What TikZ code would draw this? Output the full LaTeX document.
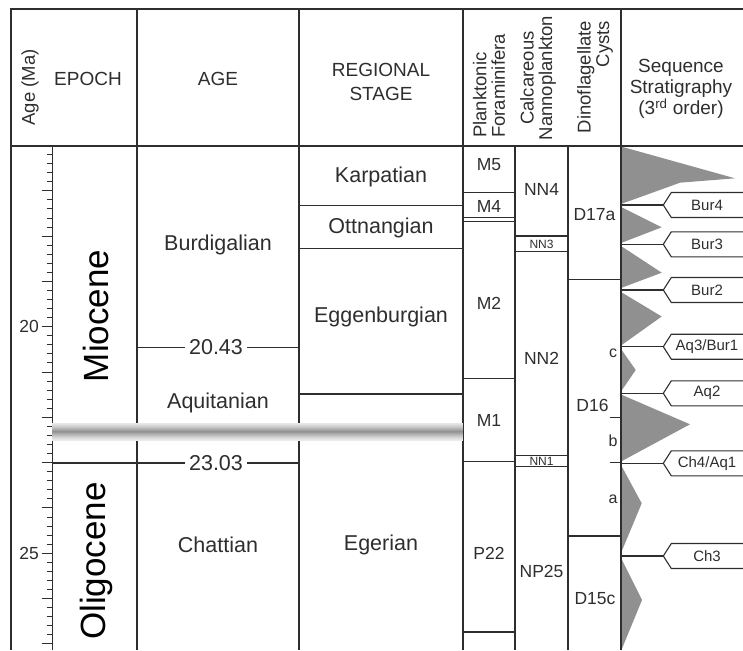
\documentclass[tikz,border=0pt]{standalone}
\usepackage{fontspec}
\setmainfont{Liberation Sans}
\definecolor{ink}{HTML}{2E2E2E}
\definecolor{wedge}{HTML}{909090}
\begin{document}
\begin{tikzpicture}[x=1pt,y=-1pt,
  rule/.style={draw=ink, line width=1.1pt},
  tick/.style={draw=ink, line width=0.9pt},
  hdr/.style={text=ink, inner sep=0pt, font=\fontsize{19}{21}\selectfont},
  hdrrot/.style={text=ink, inner sep=0pt, rotate=90, font=\fontsize{18.5}{18.5}\selectfont},
  agelbl/.style={text=ink, inner sep=0pt, font=\fontsize{21.5}{24}\selectfont},
  zone/.style={text=ink, inner sep=0pt, font=\fontsize{17.5}{20}\selectfont},
  tinyzone/.style={text=ink, inner sep=0pt, font=\fontsize{12}{14}\selectfont},
  subzone/.style={text=ink, inner sep=0pt, font=\fontsize{16}{18}\selectfont},
  epochlbl/.style={text=black, inner sep=0pt, rotate=90, font=\fontsize{35}{40}\selectfont},
  seqlbl/.style={text=ink, inner sep=0pt, font=\fontsize{15}{17}\selectfont},
  axislbl/.style={text=ink, inner sep=0pt, font=\fontsize{17.5}{20}\selectfont},
  wedgefill/.style={fill=wedge, draw=none}]
\useasboundingbox (0,0) rectangle (743,650);

% ---- sequence stratigraphy wedges
\fill[wedgefill] (621,146.5) -- (735,178.3) -- (680,182.7) -- (621,204) -- cycle;
\fill[wedgefill] (621,207) -- (661.7,227.3) -- (621,243) -- cycle;
\fill[wedgefill] (621,246) -- (661.7,272.7) -- (621,288) -- cycle;
\fill[wedgefill] (621,292) -- (661.7,316.5) -- (621,345.5) -- cycle;
\fill[wedgefill] (621,349) -- (635.7,370) -- (621,391.5) -- cycle;
\fill[wedgefill] (621,394.5) -- (690,424.3) -- (621,461.5) -- cycle;
\fill[wedgefill] (621,465) -- (641.7,503.3) -- (621,553) -- cycle;
\fill[wedgefill] (621,558) -- (642,600) -- (621,651) -- cycle;

% ---- table frame and column rules
\draw[rule] (11,650) -- (11,9) -- (743,9);
\draw[rule] (11,146) -- (743,146);
\foreach \x in {137,299,463,621} \draw[rule] (\x,9) -- (\x,650);
\foreach \x in {52.3,515,568} \draw[rule] (\x,146) -- (\x,650);

% ---- age axis (0.2 Ma ticks, 16 Ma at the top)
\foreach \i in {1,...,55}{
  \pgfmathsetmacro\yy{145.5+\i*9.06}
  \pgfmathtruncatemacro\m{mod(\i,5)}
  \ifnum\m=0
    \draw[tick] (41.5,\yy) -- (52.3,\yy);
  \else
    \draw[tick] (46.5,\yy) -- (52.3,\yy);
  \fi
}
\node[axislbl, anchor=east] (ma20) at (39,326.7) {20};
\node[axislbl, anchor=east] (ma25) at (39,553.3) {25};

% ---- header
\node[hdrrot] (hage) at (30,87.5) {Age (Ma)};
\node[hdr] (hepoch) at (88,79) {EPOCH};
\node[hdr] (hagecol) at (218,79) {AGE};
\node[hdr, align=center, font=\fontsize{19}{24}\selectfont] (hreg) at (381,82) {REGIONAL\\STAGE};
\node[hdrrot, align=left] (hplank) at (489,86) {Planktonic\\Foraminifera};
\node[hdrrot, align=center] (hnanno) at (538,78) {Calcareous\\Nannoplankton};
\node[hdrrot, align=right] (hdino) at (595,77) {Dinoflagellate\\Cysts};
\node[hdr, align=center, font=\fontsize{19}{21}\selectfont] (hseq) at (681,89)
  {Sequence\\Stratigraphy\\(3\textsuperscript{rd} order)};

% ---- epochs
\node[epochlbl] (mio) at (96,316) {Miocene};
\node[epochlbl] (oli) at (96,561) {Oligocene};
\draw[rule] (52.3,463) -- (137,463);

% ---- ages
\node[agelbl] (burd) at (218,245) {Burdigalian};
\node[agelbl] (aqui) at (218,403) {Aquitanian};
\node[agelbl] (chat) at (218,545) {Chattian};
\node[agelbl] (b2043) at (216,347.3) {20.43};
\node[agelbl] (b2303) at (216,463) {23.03};
\coordinate (l2043) at (137,347.3);
\coordinate (r2043) at (299,347.3);
\coordinate (l2303) at (137,463);
\coordinate (r2303) at (299,463);
\draw[rule] (l2043) -- ([xshift=-4pt]b2043.west);
\draw[rule] ([xshift=4pt]b2043.east) -- (r2043);
\draw[rule] (l2303) -- ([xshift=-4pt]b2303.west);
\draw[rule] ([xshift=4pt]b2303.east) -- (r2303);

% ---- regional stages
\draw[rule] (299,205.7) -- (463,205.7);
\draw[rule] (299,248.3) -- (463,248.3);
\draw[rule] (299,394) -- (463,394);
\node[agelbl] (karp) at (381,176.7) {Karpatian};
\node[agelbl] (ottn) at (381,228.3) {Ottnangian};
\node[agelbl] (eggb) at (381,316.7) {Eggenburgian};
\node[agelbl] (eger) at (381,545) {Egerian};

% ---- planktonic foraminifera zones
\foreach \y in {192.3,217.7,221.7,378.3,461.7,632} \draw[rule] (463,\y) -- (515,\y);
\node[zone] (m5) at (489,165) {M5};
\node[zone] (m4) at (489,206.2) {M4};
\node[zone] (m2) at (489,303) {M2};
\node[zone] (m1) at (489,420) {M1};
\node[zone] (p22) at (489,553.3) {P22};

% ---- calcareous nannoplankton zones
\foreach \y in {236,251.7,455.7,466.7} \draw[rule] (515,\y) -- (568,\y);
\node[zone] (nn4) at (541.5,189.3) {NN4};
\node[tinyzone] (nn3) at (541.5,244) {NN3};
\node[zone] (nn2) at (541.5,358.3) {NN2};
\node[tinyzone] (nn1) at (541.5,461.2) {NN1};
\node[zone] (np25) at (541.5,571.7) {NP25};

% ---- dinoflagellate cyst zones
\draw[rule] (568,279.3) -- (621,279.3);
\draw[rule] (568,536) -- (621,536);
\draw[rule] (610,417.7) -- (621,417.7);
\node[zone] (d17a) at (594.5,215) {D17a};
\node[zone] (d16) at (592.5,405) {D16};
\node[zone] (d15c) at (595,598.3) {D15c};
\node[subzone] (d16c) at (613,353.3) {c};
\node[subzone] (d16b) at (613,440.7) {b};
\node[subzone] (d16a) at (613,499.3) {a};
\draw[rule] (610,462.7) -- (621,462.7);

% ---- sequence boundaries with label tags
\foreach \y/\t/\n in {205/Bur4/bur4, 244.3/Bur3/bur3, 290/Bur2/bur2,
    346.7/Aq3\slash Bur1/aqbur, 393.3/Aq2/aq2, 463.3/Ch4\slash Aq1/chaq, 556/Ch3/ch3}{
  \coordinate (sb-\n) at (621,\y);
  \coordinate (tip-\n) at (663.3,\y);
  \draw[rule, line join=miter] (745,\y-12.5) -- (671.3,\y-12.5) -- (tip-\n)
     -- (671.3,\y+12.5) -- (745,\y+12.5);
  \draw[rule] (sb-\n) -- (tip-\n);
  \node[seqlbl] (lab-\n) at (707,\y) {\t};
}

% ---- hiatus band across the epoch, age and stage columns:
% thin strips, light at the edges and darkest along the middle
\foreach \k in {0,...,35}{
  \pgfmathsetmacro\lvl{8+36*(1-abs(\k-17.5)/17.5)^1.3}
  \fill[black!\lvl] (52.3,{422.5+\k*0.5}) rectangle (463,{423.05+\k*0.5});
}
\end{tikzpicture}
\end{document}
